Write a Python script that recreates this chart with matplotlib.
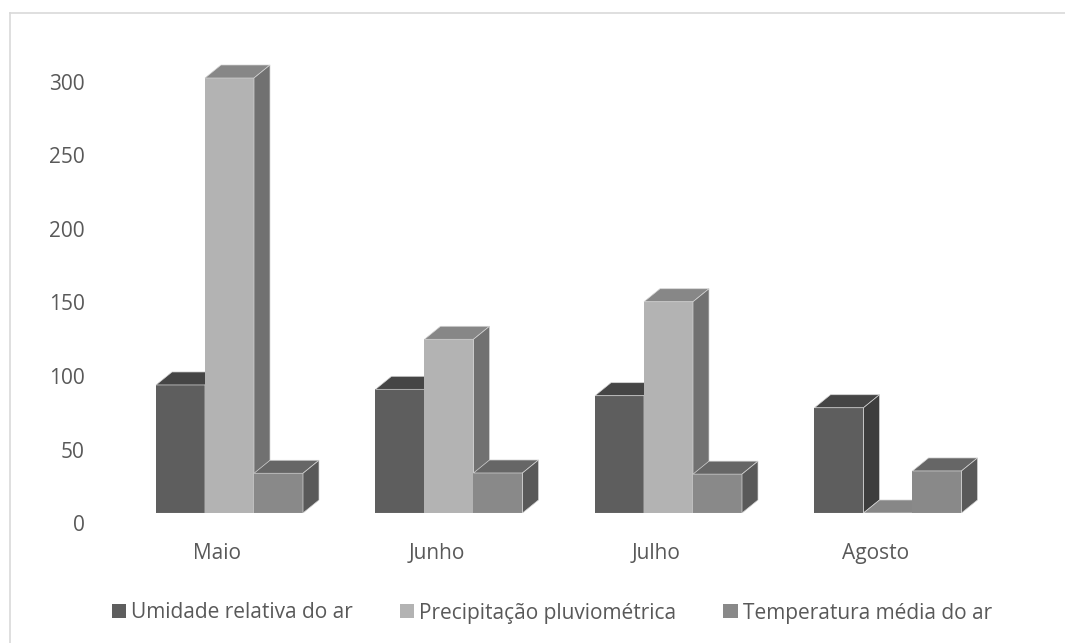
import matplotlib
matplotlib.use("Agg")
import matplotlib.pyplot as plt
from matplotlib.patches import Polygon, Patch
from matplotlib.lines import Line2D
from matplotlib.transforms import ScaledTranslation

plt.rcParams["font.family"] = ["Open Sans", "DejaVu Sans"]

# Monthly values per series
months = ["Maio", "Junho", "Julho", "Agosto"]
umidade = [88.3, 85.3, 80.9, 72.6]
precipitacao = [300.0, 119.8, 145.7, 0.0]
temperatura = [27.4, 27.6, 26.8, 29.0]
series_names = ["Umidade relativa do ar", "Precipitação pluviométrica", "Temperatura média do ar"]
y_ticks = [0, 50, 100, 150, 200, 250, 300]

series = [umidade, precipitacao, temperatura]
# (front, top, side) shades for each series
shades = [
    ("#5e5e5e", "#454545", "#3d3d3d"),
    ("#b3b3b3", "#878787", "#717171"),
    ("#898989", "#666666", "#595959"),
]
text_color = "#595959"

W, H = 1065, 643
fig = plt.figure(figsize=(W / 100, H / 100), dpi=100)
fig.patch.set_facecolor("white")


def fx(px):
    return px / W


def fy(py):
    return (H - py) / H


# plot area geometry (pixels)
left_px, right_px, top_px, base_px = 120, 1000, 40, 513
px_per_cat = 219.5
px_per_val = 1.45
first_center_px = 229.5

ax = fig.add_axes([fx(left_px), fy(base_px), (right_px - left_px) / W, (base_px - top_px) / H])
x0_lim = -(first_center_px - left_px) / px_per_cat
ax.set_xlim(x0_lim, x0_lim + (right_px - left_px) / px_per_cat)
ax.set_ylim(0, (base_px - top_px) / px_per_val)
for s in ax.spines.values():
    s.set_visible(False)
ax.set_yticks([])

bar_w = 49 / px_per_cat
DX = 16 / px_per_cat
DY = 13 / px_per_val
edge = "#d4d4d4"

for i in range(len(months)):
    for k, vals in enumerate(series):
        h = vals[i]
        x0 = i + (k - 1.5) * bar_w
        front, top, side = shades[k]
        z = 2 + 3 * k
        ax.bar(x0, h, width=bar_w, align="edge", color=front, edgecolor="none", zorder=z)
        ax.add_patch(Polygon([(x0, h), (x0 + bar_w, h), (x0 + bar_w + DX, h + DY), (x0 + DX, h + DY)],
                             closed=True, facecolor=top, edgecolor=edge, linewidth=0.5, zorder=z + 1))
        ax.add_patch(Polygon([(x0 + bar_w, 0), (x0 + bar_w + DX, DY), (x0 + bar_w + DX, h + DY), (x0 + bar_w, h)],
                             closed=True, facecolor=side, edgecolor=edge, linewidth=0.5, zorder=z + 1))
        ax.plot([x0, x0 + bar_w], [0, 0], color=edge, lw=0.8, zorder=z + 2, solid_capstyle="butt")

ax.set_xticks(range(len(months)))
ax.set_xticklabels(months, fontsize=15, color=text_color)
ax.tick_params(axis="x", length=0, pad=21.5)
shift = ScaledTranslation(-12 / 100, 0, fig.dpi_scale_trans)
for lab in ax.get_xticklabels():
    lab.set_transform(lab.get_transform() + shift)

# value axis labels
ax_lab = fig.add_axes([fx(95), fy(523), fx(5), (523 - 82) / H])
ax_lab.set_ylim(0, 300)
ax_lab.set_yticks(y_ticks)
ax_lab.set_yticklabels([str(t) for t in y_ticks], fontsize=15, color=text_color)
ax_lab.tick_params(axis="y", length=0, pad=7.2)
ax_lab.set_xticks([])
ax_lab.patch.set_visible(False)
for s in ax_lab.spines.values():
    s.set_visible(False)

# chart frame (top and left edges)
fig.add_artist(Line2D([fx(10), 1], [fy(12.5), fy(12.5)], transform=fig.transFigure, color="#d9d9d9", lw=1.2))
fig.add_artist(Line2D([fx(10), fx(10)], [fy(12.5), 0], transform=fig.transFigure, color="#d9d9d9", lw=1.2))

handles = [Patch(facecolor=shades[k][0], edgecolor="none") for k in range(3)]
fig.legend(handles, series_names, loc="center", bbox_to_anchor=(fx(552), fy(613)), ncol=3,
           frameon=False, fontsize=15, handlelength=0.68, handleheight=0.68, handletextpad=0.25,
           columnspacing=2.25, labelcolor=text_color, borderaxespad=0, borderpad=0)

fig.savefig("out.png", dpi=100, facecolor="white")
